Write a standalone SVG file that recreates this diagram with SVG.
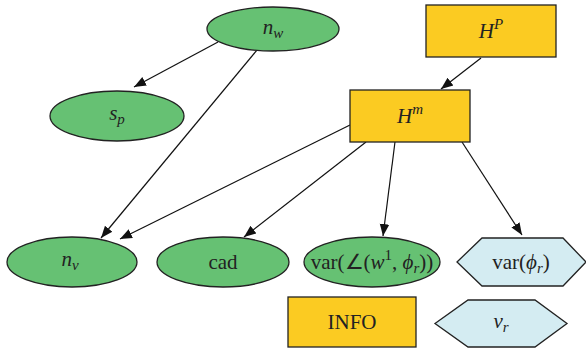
<svg xmlns="http://www.w3.org/2000/svg" width="586" height="353" viewBox="0 0 586 353">
<style>
.g{fill:#66c173;stroke:#222;stroke-width:1.3}
.y{fill:#fbcb22;stroke:#222;stroke-width:1.3}
.b{fill:#d4ecf2;stroke:#222;stroke-width:1.3}
text{font-family:"Liberation Serif",serif;font-size:21px;fill:#222;text-anchor:middle}
.i{font-style:italic}
.s{font-size:15px}
.e{stroke:#111;stroke-width:1.2;fill:none;marker-end:url(#a)}
</style>
<defs>
<marker id="a" viewBox="0 0 10 10" refX="10" refY="5" markerWidth="12" markerHeight="12" markerUnits="userSpaceOnUse" orient="auto">
<path d="M0,1 L10,5 L0,9 z" fill="#111"/>
</marker>
</defs>
<g id="edges">
<line class="e" x1="218" y1="42" x2="134" y2="87"/>
<line class="e" x1="257" y1="50" x2="101" y2="238"/>
<line class="e" x1="481" y1="58" x2="441" y2="89"/>
<line class="e" x1="350" y1="125" x2="120" y2="239"/>
<line class="e" x1="366" y1="142" x2="244" y2="237"/>
<line class="e" x1="395" y1="142" x2="383" y2="236"/>
<line class="e" x1="462" y1="142" x2="522" y2="235"/>
</g>
<g id="nw"><ellipse class="g" cx="273" cy="29" rx="66" ry="22"/><text x="273" y="34" class="i">n<tspan class="s" dy="4">w</tspan></text></g>
<g id="sp"><ellipse class="g" cx="117" cy="116" rx="67" ry="25"/><text x="117" y="120" class="i">s<tspan class="s" dy="4">p</tspan></text></g>
<g id="HP"><rect class="y" x="426" y="5" width="130" height="52"/><text x="491" y="38" class="i">H<tspan class="s" dy="-9">P</tspan></text></g>
<g id="Hm"><rect class="y" x="350" y="90" width="120" height="52"/><text x="410" y="123" class="i">H<tspan class="s" dy="-9">m</tspan></text></g>
<g id="nv"><ellipse class="g" cx="72" cy="262" rx="65" ry="25"/><text x="70" y="266" class="i">n<tspan class="s" dy="4">v</tspan></text></g>
<g id="cad"><ellipse class="g" cx="223" cy="262" rx="66" ry="25"/><text x="223" y="269">cad</text></g>
<g id="varang"><ellipse class="g" cx="372" cy="262" rx="68" ry="25"/><text x="372" y="269">var(∠(<tspan class="i">w</tspan><tspan class="s" dy="-9">1</tspan><tspan dy="9">, </tspan><tspan class="i">ϕ</tspan><tspan class="i s" dy="4">r</tspan><tspan dy="-4">))</tspan></text></g>
<g id="varphi"><polygon class="b" points="457,262 482,238 563,238 586,262 563,286 482,286"/><text x="521" y="269">var(<tspan class="i">ϕ</tspan><tspan class="i s" dy="4">r</tspan><tspan dy="-4">)</tspan></text></g>
<g id="info"><rect class="y" x="288" y="297" width="128" height="50"/><text x="352" y="329">INFO</text></g>
<g id="vr"><polygon class="b" points="435,323.5 468,300 535,300 567,323.5 535,347 468,347"/><text x="501" y="328" class="i">v<tspan class="s" dy="4">r</tspan></text></g>
</svg>
